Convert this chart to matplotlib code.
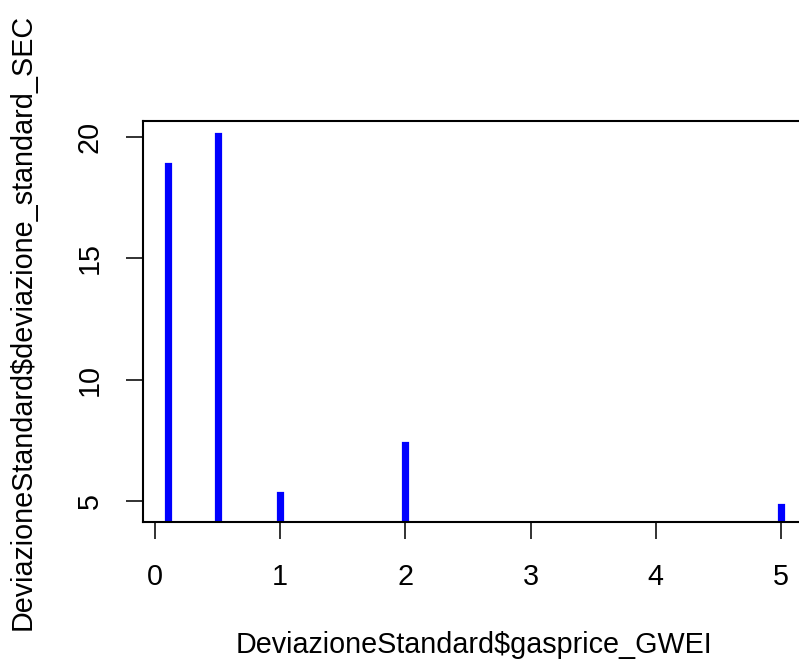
#%% Libraries
import matplotlib
matplotlib.use('Agg')
import matplotlib.pyplot as plt

#%% Data (gas price vs standard deviation)
gasprice_GWEI = [0.1, 0.5, 1, 2, 5]
deviazione_standard_SEC = [18.80, 20.03, 5.28, 7.31, 4.76]
x_ticks = [0, 1, 2, 3, 4, 5]
y_ticks = [5, 10, 15, 20]

#%% Figure setup, R base graphics look
plt.rcParams['font.family'] = ['Liberation Sans', 'DejaVu Sans']
fig = plt.figure(figsize=(7.99, 6.61), dpi=100)
ax = fig.add_axes([143/799, 139/661, (805.5-143)/799, 401/661])

# type="h" lines, drawn from the bottom up to each value
ax.vlines(gasprice_GWEI, 0, deviazione_standard_SEC, colors='#0000ff',
          linewidth=5.2, capstyle='projecting')

# R style 4% axis extension
def r_range(vals):
    lo, hi = min(vals), max(vals)
    d = (hi - lo) * 0.04
    return lo - d, hi + d

ax.set_xlim(r_range(gasprice_GWEI))
ax.set_ylim(r_range(deviazione_standard_SEC))

ax.set_xticks(x_ticks)
ax.set_yticks(y_ticks)
ax.set_xticklabels([str(v) for v in x_ticks])
ax.set_yticklabels([str(v) for v in y_ticks], rotation=90, va='center')

for s in ax.spines.values():
    s.set_linewidth(1.5)
ax.tick_params(axis='both', length=12, width=1.3, labelsize=20.7, color='#222222')
ax.tick_params(axis='x', pad=17.5)
ax.tick_params(axis='y', pad=16.5)

ax.set_xlabel('DeviazioneStandard$gasprice_GWEI', fontsize=20.7)
ax.set_ylabel('DeviazioneStandard$deviazione_standard_SEC', fontsize=20.7)
ax.xaxis.set_label_coords(0.5, -0.307)
ax.yaxis.set_label_coords(-0.181, 0.5)
ax.xaxis.label.set_va('center')
ax.yaxis.label.set_va('center')

fig.savefig('out.png', dpi=100)
plt.close()
